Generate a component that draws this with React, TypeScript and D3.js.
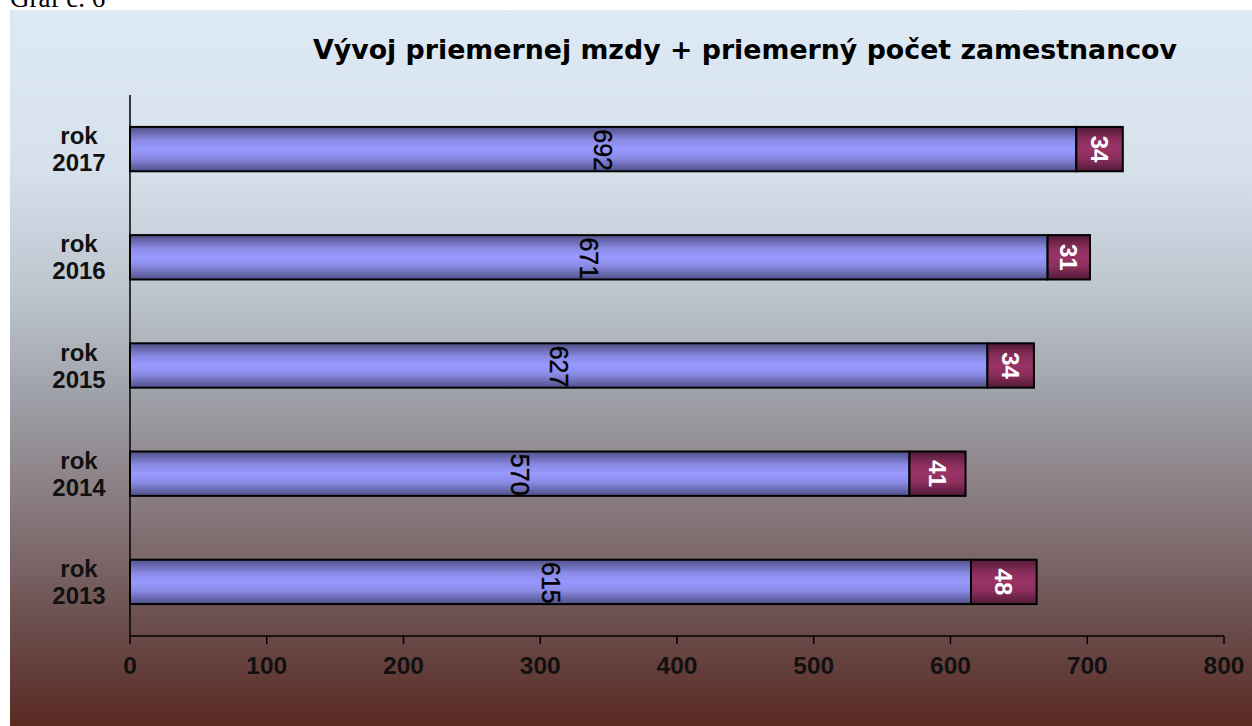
import * as d3 from "d3";

// data
const years = ["rok 2017", "rok 2016", "rok 2015", "rok 2014", "rok 2013"];
const avgWage = [692, 671, 627, 570, 615];
const avgStaff = [34, 31, 34, 41, 48];
const xTicks = [0, 100, 200, 300, 400, 500, 600, 700, 800];

const W = 1252;
const H = 726;

export default function App() {
  const x = d3.scaleLinear().domain([0, 800]).range([130, 1224]);
  const y = d3.scaleBand().domain(years).range([95, 636]).paddingInner(0.59).paddingOuter(0.295);
  const bh = y.bandwidth();
  const font = "'Liberation Sans', Arial, sans-serif";

  return (
    <svg width={W} height={H} style={{ position: "absolute", left: 0, top: 0, display: "block" }}>
      <defs>
        <linearGradient id="bg" x1="0" y1="0" x2="0" y2="1">
          <stop offset="0" stopColor="#dde9f4" />
          <stop offset="0.22" stopColor="#d6e1ec" />
          <stop offset="0.4" stopColor="#bcc4cd" />
          <stop offset="0.55" stopColor="#9d9ea6" />
          <stop offset="0.7" stopColor="#87787c" />
          <stop offset="0.85" stopColor="#6c5050" />
          <stop offset="1" stopColor="#5a2a22" />
        </linearGradient>
        <linearGradient id="blue" x1="0" y1="0" x2="0" y2="1">
          <stop offset="0" stopColor="#4f4f88" />
          <stop offset="0.3" stopColor="#8a8ae4" />
          <stop offset="0.5" stopColor="#9999ff" />
          <stop offset="0.7" stopColor="#8a8ae4" />
          <stop offset="1" stopColor="#4f4f88" />
        </linearGradient>
        <linearGradient id="plum" x1="0" y1="0" x2="0" y2="1">
          <stop offset="0" stopColor="#521a37" />
          <stop offset="0.3" stopColor="#8c2f5e" />
          <stop offset="0.5" stopColor="#993366" />
          <stop offset="0.7" stopColor="#8c2f5e" />
          <stop offset="1" stopColor="#521a37" />
        </linearGradient>
      </defs>
      <rect x={0} y={0} width={W} height={H} fill="#fff" />
      {/* caption of the page above, cut off at the top as in the source */}
      <text x={10} y={7} fontFamily="'Liberation Serif', 'Times New Roman', serif" fontSize={27}>
        Graf č. 6
      </text>
      <rect x={10} y={10} width={W - 10} height={H - 10} fill="url(#bg)" />

      <text
        x={745}
        y={59}
        textAnchor="middle"
        fontFamily="'DejaVu Sans', Verdana, sans-serif"
        fontWeight="bold"
        fontSize={26.8}
      >
        Vývoj priemernej mzdy + priemerný počet zamestnancov
      </text>

      {years.map((yr, i) => {
        const y0 = y(yr)!;
        const cy = y0 + bh / 2;
        const w = avgWage[i];
        const s = avgStaff[i];
        const parts = yr.split(" ");
        return (
          <g key={yr}>
            <text x={79} y={cy - 5} textAnchor="middle" fontFamily={font} fontWeight="bold" fontSize={24} fill="#111">
              {parts[0]}
            </text>
            <text x={79} y={cy + 22} textAnchor="middle" fontFamily={font} fontWeight="bold" fontSize={24} fill="#111">
              {parts[1]}
            </text>
            <rect x={x(0)} y={y0} width={x(w) - x(0)} height={bh} fill="url(#blue)" stroke="#000" strokeWidth={2} />
            <rect x={x(w)} y={y0} width={x(w + s) - x(w)} height={bh} fill="url(#plum)" stroke="#000" strokeWidth={2} />
            <text
              transform={`translate(${x(w / 2)},${cy + 1}) rotate(90)`}
              textAnchor="middle"
              dominantBaseline="central"
              fontFamily={font}
              fontSize={25}
              fontWeight={500}
              stroke="#000"
              strokeWidth={0.4}
              fill="#000"
            >
              {w}
            </text>
            <text
              transform={`translate(${x(w + s / 2)},${cy}) rotate(90)`}
              textAnchor="middle"
              dominantBaseline="central"
              fontFamily={font}
              fontWeight="bold"
              fontSize={24}
              fill="#fff"
            >
              {s}
            </text>
          </g>
        );
      })}

      {/* axes */}
      <line x1={x(0)} x2={x(0)} y1={95} y2={636} stroke="#000" strokeWidth={1.5} />
      <line x1={x(0)} x2={x(800)} y1={636} y2={636} stroke="#000" strokeWidth={1.5} />
      {xTicks.map((t) => (
        <g key={t}>
          <line x1={x(t)} x2={x(t)} y1={636} y2={644} stroke="#000" strokeWidth={1.5} />
          <text x={x(t)} y={674} textAnchor="middle" fontFamily={font} fontWeight="bold" fontSize={24.5} fill="#111">
            {t}
          </text>
        </g>
      ))}
    </svg>
  );
}
